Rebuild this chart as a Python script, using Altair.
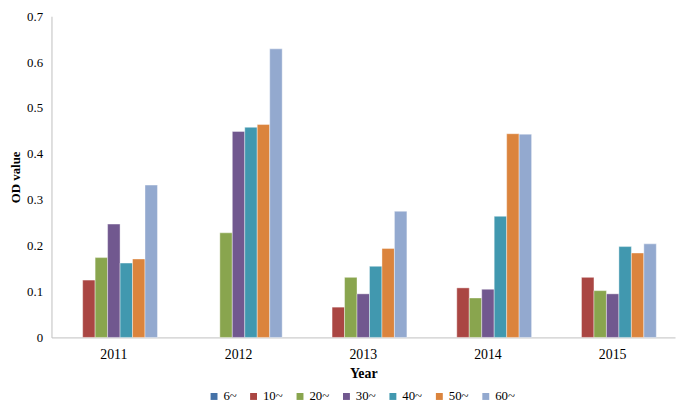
import altair as alt
import pandas as pd

years = ["2011", "2012", "2013", "2014", "2015"]
groups = ["6~", "10~", "20~", "30~", "40~", "50~", "60~"]
colors = ["#4572A7", "#AA4643", "#89A54E", "#71588F", "#4198AF", "#DB843D", "#93A9CF"]

# None = no bar
v6 = [None, None, None, None, None]
v10 = [0.125, None, 0.066, 0.108, 0.131]
v20 = [0.174, 0.228, 0.131, 0.086, 0.102]
v30 = [0.247, 0.449, 0.095, 0.105, 0.095]
v40 = [0.162, 0.458, 0.155, 0.264, 0.198]
v50 = [0.171, 0.464, 0.194, 0.444, 0.184]
v60 = [0.332, 0.629, 0.275, 0.443, 0.204]

series = [v6, v10, v20, v30, v40, v50, v60]
rows = []
for g, vals in zip(groups, series):
    for y, v in zip(years, vals):
        if v is not None:
            rows.append({"Year": y, "Group": g, "OD": v})
df = pd.DataFrame(rows)

FONT = "Liberation Serif"

chart = alt.Chart(df).mark_bar(stroke="white", strokeWidth=0.4).encode(
    x=alt.X("Year:N", sort=years,
            scale=alt.Scale(domain=years, paddingInner=0.3, paddingOuter=0.15),
            axis=alt.Axis(title="Year", labelAngle=0, ticks=False, labelPadding=10,
                          titlePadding=6, domainColor="#BFBFBF")),
    xOffset=alt.XOffset("Group:N", scale=alt.Scale(domain=groups, paddingInner=0, paddingOuter=0)),
    y=alt.Y("OD:Q", scale=alt.Scale(domain=[0, 0.7], nice=False),
            axis=alt.Axis(title="OD value", values=[0, 0.1, 0.2, 0.3, 0.4, 0.5, 0.6, 0.7],
                          format=".1~f", grid=False, ticks=False, labelPadding=9,
                          labelFontSize=13,
                          domainColor="#BFBFBF", titleX=-36, titleBaseline="middle",
                          titleFontSize=13)),
    color=alt.Color("Group:N", scale=alt.Scale(domain=groups, range=colors),
                    legend=alt.Legend(title=None, orient="none", direction="horizontal",
                                      legendX=158, legendY=378, symbolType="square",
                                      symbolSize=49, symbolStrokeWidth=0, columnPadding=10,
                                      symbolOffset=0, labelOffset=3, labelFontSize=13,
                                      labelFont=FONT, labelColor="#000")),
).properties(
    width=631, height=325,
    autosize=alt.AutoSizeParams(type="none"),
    padding={"left": 44, "top": 6, "right": 2, "bottom": 65},
).configure_view(stroke=None).configure_axis(
    labelFont=FONT, titleFont=FONT, labelFontSize=14, titleFontSize=14,
    labelColor="#000", titleColor="#000", titleFontWeight="bold",
)

chart.save("out.html", embed_options={"renderer": "svg", "actions": False})
